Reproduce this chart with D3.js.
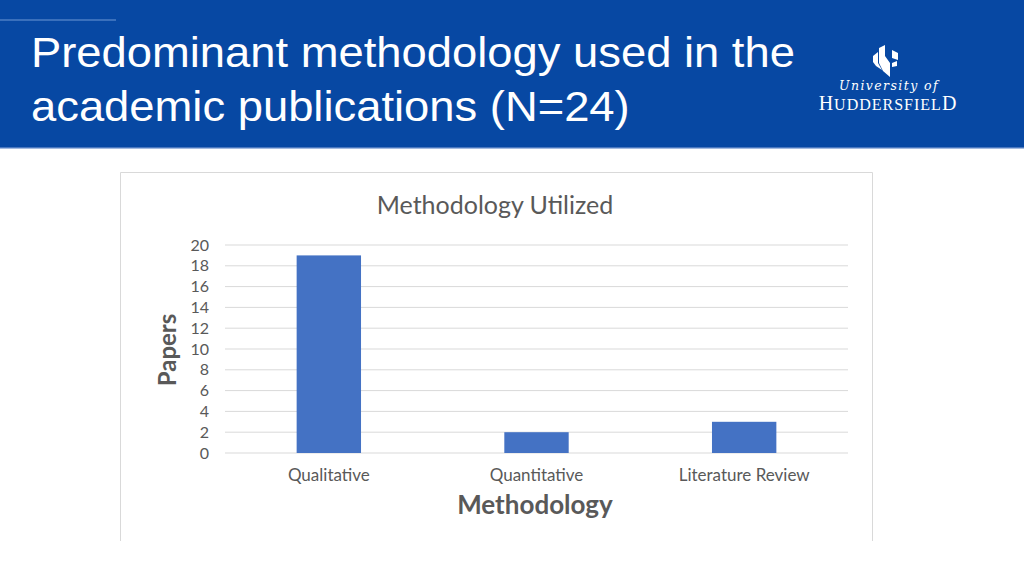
<!DOCTYPE html>
<html><head><meta charset="utf-8">
<script src="https://cdn.jsdelivr.net/npm/d3@7"></script>
<style>html,body{margin:0;padding:0;background:#fff;}svg{display:block;}</style>
</head><body>
<script>
const categories = ["Qualitative", "Quantitative", "Literature Review"];
const papers = [19, 2, 3];
const yTicks = [0, 2, 4, 6, 8, 10, 12, 14, 16, 18, 20];
const titleLines = ["Predominant methodology used in the", "academic publications (N=24)"];

const W = 1024, H = 576;
const svg = d3.select("body").append("svg").attr("width", W).attr("height", H);

// header band
svg.append("rect").attr("x", 0).attr("y", 0).attr("width", W).attr("height", 148).attr("fill", "#0748a3");
svg.append("rect").attr("x", 0).attr("y", 147).attr("width", W).attr("height", 1.5).attr("fill", "#4a78c0");
svg.append("line").attr("x1", 0).attr("x2", 116).attr("y1", 20).attr("y2", 20).attr("stroke", "#6f97d6").attr("stroke-width", 1.2);

svg.selectAll("text.title").data(titleLines).join("text")
  .attr("transform", (d, i) => `translate(31,${67 + i * 54}) scale(1.08,1)`)
  .attr("fill", "#fff").attr("font-family", "Liberation Sans, Arial, sans-serif")
  .attr("font-size", 42).text(d => d);

// logo
const logo = svg.append("g").attr("fill", "#fff");
logo.append("path").attr("d", "M879,48 L885,45 L885,56 L890,63 L890,77 L883,71 L879,63 Z");
logo.append("path").attr("d", "M873,56 L878,52 L878,63 L882,70 L876,66 L873,62 Z");
logo.append("path").attr("d", "M892,50 L898,53 L898,60 L892,58 Z");
logo.append("path").attr("d", "M892,63 L897,61 L897,66 L892,67 Z");
logo.append("text").attr("x", 889).attr("y", 90).attr("text-anchor", "middle")
  .attr("font-family", "DejaVu Serif, serif").attr("font-style", "italic").attr("font-size", 12.5)
  .attr("letter-spacing", 1.4).text("University of");
const hud = logo.append("text").attr("x", 888).attr("y", 110).attr("text-anchor", "middle")
  .attr("font-family", "Liberation Serif, serif").attr("font-size", 20).attr("letter-spacing", 1);
hud.append("tspan").text("H");
hud.append("tspan").attr("font-size", 16).text("UDDERSFIEL");
hud.append("tspan").text("D");

// chart box (bottom clipped)
svg.append("path").attr("d", "M120.5,541 V172.5 H872.5 V541")
  .attr("fill", "none").attr("stroke", "#d9d9d9").attr("stroke-width", 1);

const x = d3.scaleBand().domain(categories).range([225, 848]).padding(0);
const y = d3.scaleLinear().domain([0, 20]).range([453, 245]);
const barFrac = 0.31;
const font = "Lato, 'Open Sans', sans-serif";
const grey = "#595959";

svg.append("text").attr("x", 495).attr("y", 214).attr("text-anchor", "middle")
  .attr("font-family", font).attr("font-size", 25).attr("fill", grey).text("Methodology Utilized");

// grid
svg.append("g").selectAll("line").data(yTicks).join("line")
  .attr("x1", 225).attr("x2", 848).attr("y1", d => y(d)).attr("y2", d => y(d))
  .attr("stroke", "#d9d9d9").attr("stroke-width", 1);

// y axis
const yAxis = svg.append("g").attr("transform", "translate(225,0)")
  .call(d3.axisLeft(y).tickValues(yTicks).tickSize(0).tickPadding(16));
yAxis.select(".domain").remove();
yAxis.selectAll("text").attr("font-family", font).attr("font-size", 16).attr("fill", grey);

// bars
svg.append("g").selectAll("rect").data(papers).join("rect")
  .attr("x", (d, i) => x(categories[i]) + x.bandwidth() * (1 - barFrac) / 2)
  .attr("width", x.bandwidth() * barFrac)
  .attr("y", d => y(d)).attr("height", d => y(0) - y(d))
  .attr("fill", "#4472c4");

// x axis
const xAxis = svg.append("g").attr("transform", "translate(0,453)")
  .call(d3.axisBottom(x).tickSize(0).tickPadding(16));
xAxis.select(".domain").remove();
xAxis.selectAll("text").attr("font-family", font).attr("font-size", 17).attr("fill", grey);

svg.append("text").attr("x", 535).attr("y", 514).attr("text-anchor", "middle")
  .attr("font-family", font).attr("font-weight", "bold").attr("font-size", 26).attr("fill", grey).text("Methodology");
svg.append("text").attr("transform", "translate(176,350) rotate(-90)").attr("text-anchor", "middle")
  .attr("font-family", font).attr("font-weight", "bold").attr("font-size", 24).attr("fill", grey).text("Papers");
</script>
</body></html>
